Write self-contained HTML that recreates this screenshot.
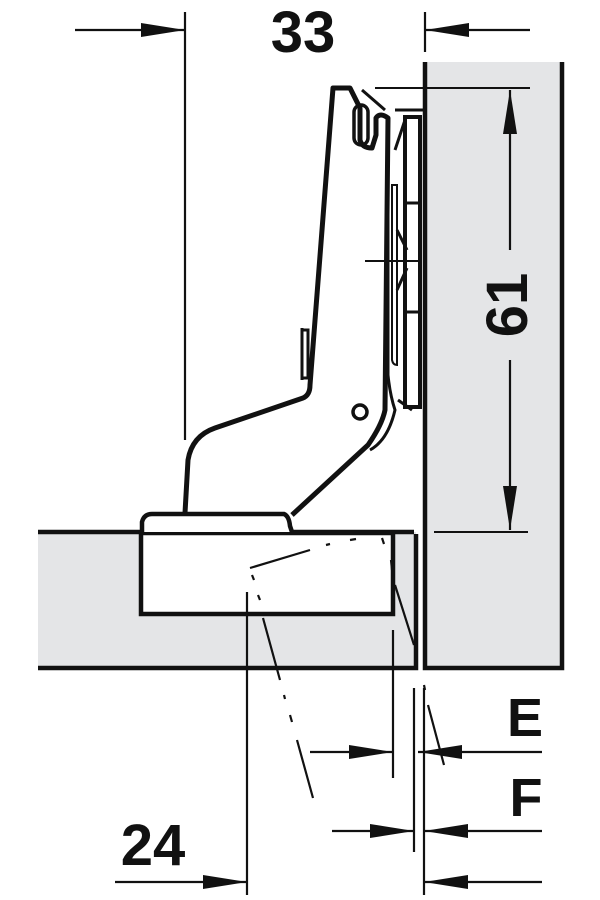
<!DOCTYPE html>
<html><head><style>html,body{margin:0;padding:0;background:#fff;width:600px;height:900px;overflow:hidden}</style></head>
<body>
<svg width="600" height="900" viewBox="0 0 600 900" xmlns="http://www.w3.org/2000/svg" font-family="Liberation Sans, sans-serif" font-weight="bold">
<defs>
<marker id="a" viewBox="0 0 44 14" refX="44" refY="7" markerWidth="44" markerHeight="14" markerUnits="userSpaceOnUse" orient="auto"><path d="M0,0 L44,7 L0,14 Z" fill="#111"/></marker>
</defs>
<rect x="425" y="62" width="137" height="606" fill="#e4e5e7"/>
<path d="M425,62 V668 H562 V62" fill="none" stroke="#111" stroke-width="4.5"/>
<rect x="38" y="532" width="378" height="136" fill="#e4e5e7"/>
<path d="M38,532 H414 M38,668 H416 V534" fill="none" stroke="#111" stroke-width="4.5"/>
<rect x="141" y="533" width="252" height="81" fill="#fff" stroke="#111" stroke-width="4.5"/>
<path d="M142,532 V522 Q144,514 152,514 H284 Q289,516 290,526 L292,532" fill="#fff" stroke="#111" stroke-width="4.5"/>
<path d="M185,513 L188,460 Q192,436 215,428 L303,398 Q310,395 310,385 L333,88 H350 L360,108 V140 Q362,148 372,148 L376,135 V118 Q380,112 388,118 L385,410 Q382,425 368,445 L292,515" fill="none" stroke="#111" stroke-width="5" stroke-linejoin="round"/>
<rect x="354" y="105" width="14" height="40" rx="7" fill="none" stroke="#111" stroke-width="3.5"/>
<path d="M362,90 L385,110" stroke="#111" stroke-width="3"/>
<circle cx="360" cy="412" r="7" fill="none" stroke="#111" stroke-width="3.5"/>
<path d="M302,328 V380 M302,330 H308 V378 H302" fill="none" stroke="#111" stroke-width="3"/>
<path d="M388,120 V375 Q390,395 395,410 Q388,440 370,450" fill="none" stroke="#111" stroke-width="3"/>
<path d="M392,185 V360 Q393,365 397,365 V185 Z" fill="none" stroke="#111" stroke-width="2"/>
<rect x="405" y="117" width="15" height="290" fill="#fff" stroke="#111" stroke-width="4"/>
<path d="M405,203 H420 M405,312 H420 M395,150 L405,120 M397,230 L407,250 M397,290 L407,268 M395,110 H425 M398,400 L412,410" stroke="#111" stroke-width="3"/>
<path d="M375,88 H530 M365,261 H420 M434,532 H528" stroke="#111" stroke-width="2"/>
<path d="M185,12 V440 M425,12 V52" stroke="#111" stroke-width="2.2"/>
<line x1="75" y1="30" x2="185" y2="30" stroke="#111" stroke-width="2.2" marker-end="url(#a)"/>
<line x1="530" y1="30" x2="425" y2="30" stroke="#111" stroke-width="2.2" marker-end="url(#a)"/>
<text x="303" y="52" font-size="58" text-anchor="middle" fill="#111">33</text>
<line x1="510" y1="250" x2="510" y2="90" stroke="#111" stroke-width="2.2" marker-end="url(#a)"/>
<line x1="510" y1="360" x2="510" y2="530" stroke="#111" stroke-width="2.2" marker-end="url(#a)"/>
<text transform="translate(527,305) rotate(-90)" font-size="58" text-anchor="middle" fill="#111">61</text>
<g stroke="#111" stroke-width="2.2" fill="none">
<path d="M250,568 L310,550" />
<path d="M326,545 L330,544 M350,540 L356,539 M382,538 L384,544 M391,560 L392,570 M395,585 L414,645"/>
<path d="M252,575 L254,580 M258,595 L260,600 M263,618 L280,680 M284,695 L285,699 M290,715 L292,722 M297,740 L313,798"/>
<path d="M424,685 L425,690 M428,705 L444,765"/>
<path d="M247,592 V895 M393,630 V778 M414,688 V852 M424,688 V895"/>
</g>
<g stroke="#111" stroke-width="2.2">
<line x1="310" y1="752" x2="393" y2="752" marker-end="url(#a)"/>
<line x1="542" y1="752" x2="418" y2="752" marker-end="url(#a)"/>
<line x1="332" y1="831" x2="414" y2="831" marker-end="url(#a)"/>
<line x1="542" y1="831" x2="424" y2="831" marker-end="url(#a)"/>
<line x1="542" y1="882" x2="424" y2="882" marker-end="url(#a)"/>
<line x1="115" y1="882" x2="247" y2="882" marker-end="url(#a)"/>
</g>
<text x="525" y="736" font-size="54" text-anchor="middle" fill="#111">E</text>
<text x="526" y="816" font-size="54" text-anchor="middle" fill="#111">F</text>
<text x="153" y="865" font-size="58" text-anchor="middle" fill="#111">24</text>
</svg>
</body></html>
